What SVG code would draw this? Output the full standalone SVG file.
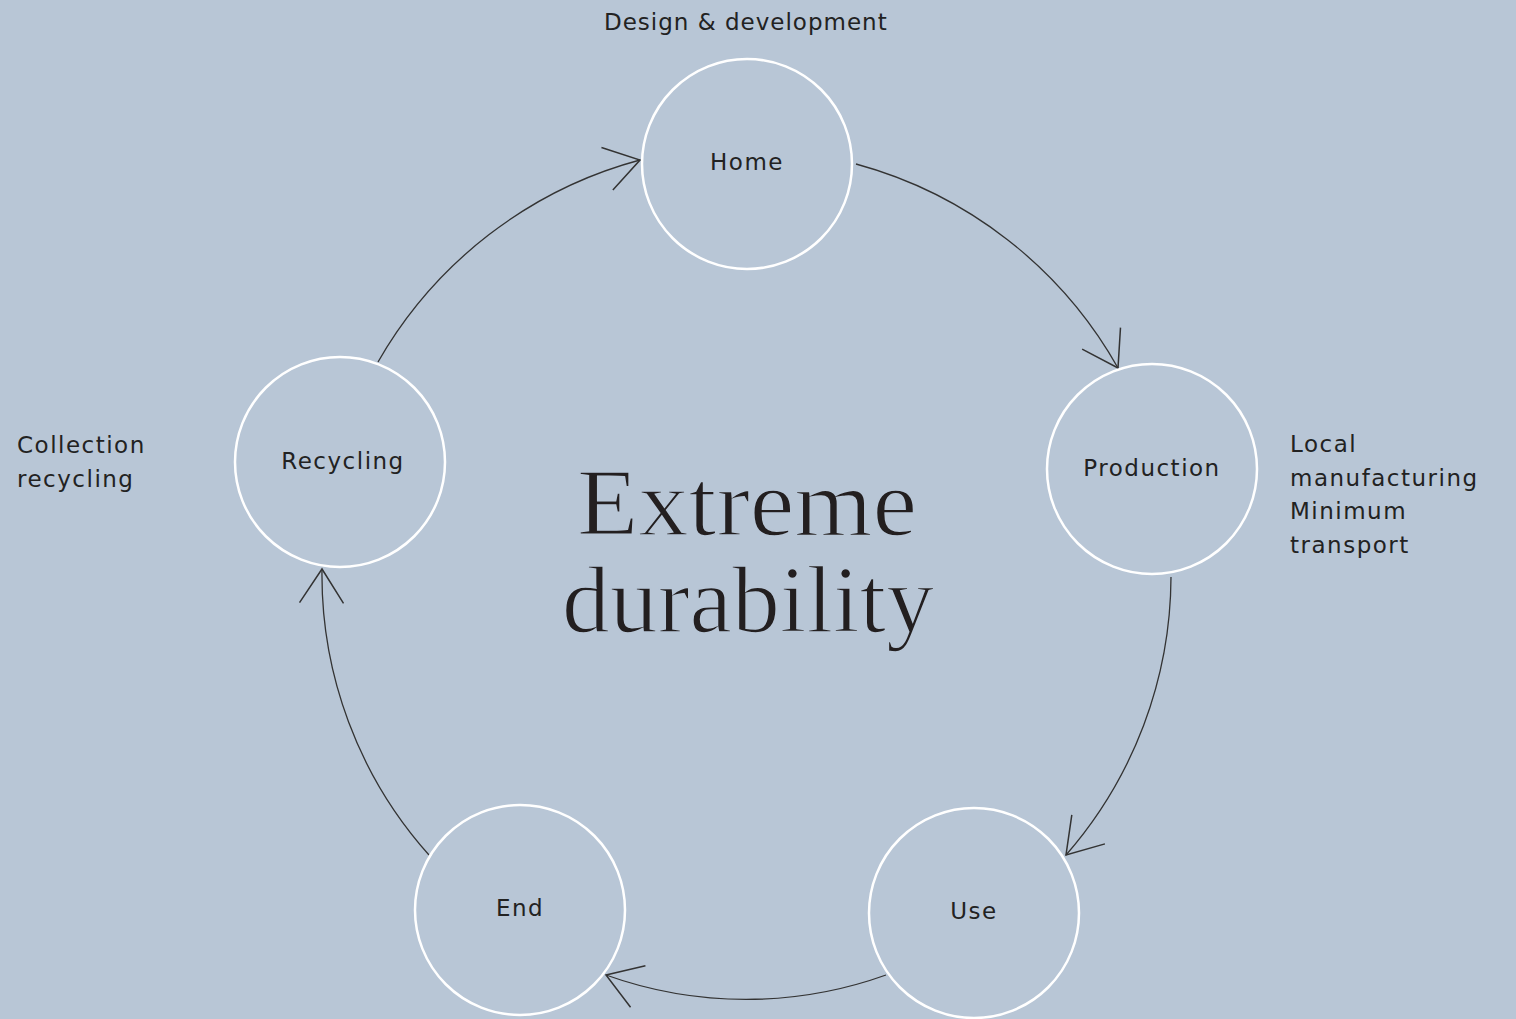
<svg xmlns="http://www.w3.org/2000/svg" width="1516" height="1019" viewBox="0 0 1516 1019">
<style>
.node{fill:none;stroke:#ffffff;stroke-width:2.5}
.lbl{font-family:"DejaVu Sans",sans-serif;font-size:23px;fill:#222222;letter-spacing:1.5px}
.c{text-anchor:middle}
.edge{fill:none;stroke:#333333;stroke-width:1.3}
.title{font-family:"Liberation Serif",serif;font-size:96px;fill:#231f20;text-anchor:middle;stroke:#b8c6d6;stroke-width:1.6}
</style>
<defs>
<marker id="arr" markerUnits="userSpaceOnUse" markerWidth="80" markerHeight="80" refX="0" refY="0" orient="auto" overflow="visible">
<path d="M-34,-22 L0,0 L-34,22" fill="none" stroke="#333333" stroke-width="1.5"/>
</marker>
</defs>
<rect width="1516" height="1019" fill="#b8c6d6"/>
<g id="connectors">
<path class="edge" d="M856,164 A430,430 0 0 1 1118,368" marker-end="url(#arr)"/>
<path class="edge" d="M1171,577 A425,425 0 0 1 1066,855" marker-end="url(#arr)"/>
<path class="edge" d="M886,975 A414,414 0 0 1 606,975" marker-end="url(#arr)"/>
<path class="edge" d="M429,855 A420,420 0 0 1 322,569" marker-end="url(#arr)"/>
<path class="edge" d="M378,362 A430,430 0 0 1 640,160" marker-end="url(#arr)"/>
</g>
<g id="title">
<text class="title" x="747" y="535" textLength="340" lengthAdjust="spacingAndGlyphs">Extreme</text>
<text class="title" x="748" y="632" textLength="372" lengthAdjust="spacingAndGlyphs">durability</text>
</g>
<g id="home">
<circle class="node" cx="747" cy="164" r="105"/>
<text class="lbl c" x="747" y="170">Home</text>
<text class="lbl" x="604" y="30" style="letter-spacing:1px">Design &amp; development</text>
</g>
<g id="production">
<circle class="node" cx="1152" cy="469" r="105"/>
<text class="lbl c" x="1152" y="476">Production</text>
<text class="lbl" x="1290" y="452">Local</text>
<text class="lbl" x="1290" y="486">manufacturing</text>
<text class="lbl" x="1290" y="519">Minimum</text>
<text class="lbl" x="1290" y="553">transport</text>
</g>
<g id="use">
<circle class="node" cx="974" cy="913" r="105"/>
<text class="lbl c" x="974" y="919">Use</text>
</g>
<g id="end">
<circle class="node" cx="520" cy="910" r="105"/>
<text class="lbl c" x="520" y="916">End</text>
</g>
<g id="recycling">
<circle class="node" cx="340" cy="462" r="105"/>
<text class="lbl c" x="343" y="469">Recycling</text>
<text class="lbl" x="17" y="453">Collection</text>
<text class="lbl" x="17" y="487">recycling</text>
</g>
</svg>
